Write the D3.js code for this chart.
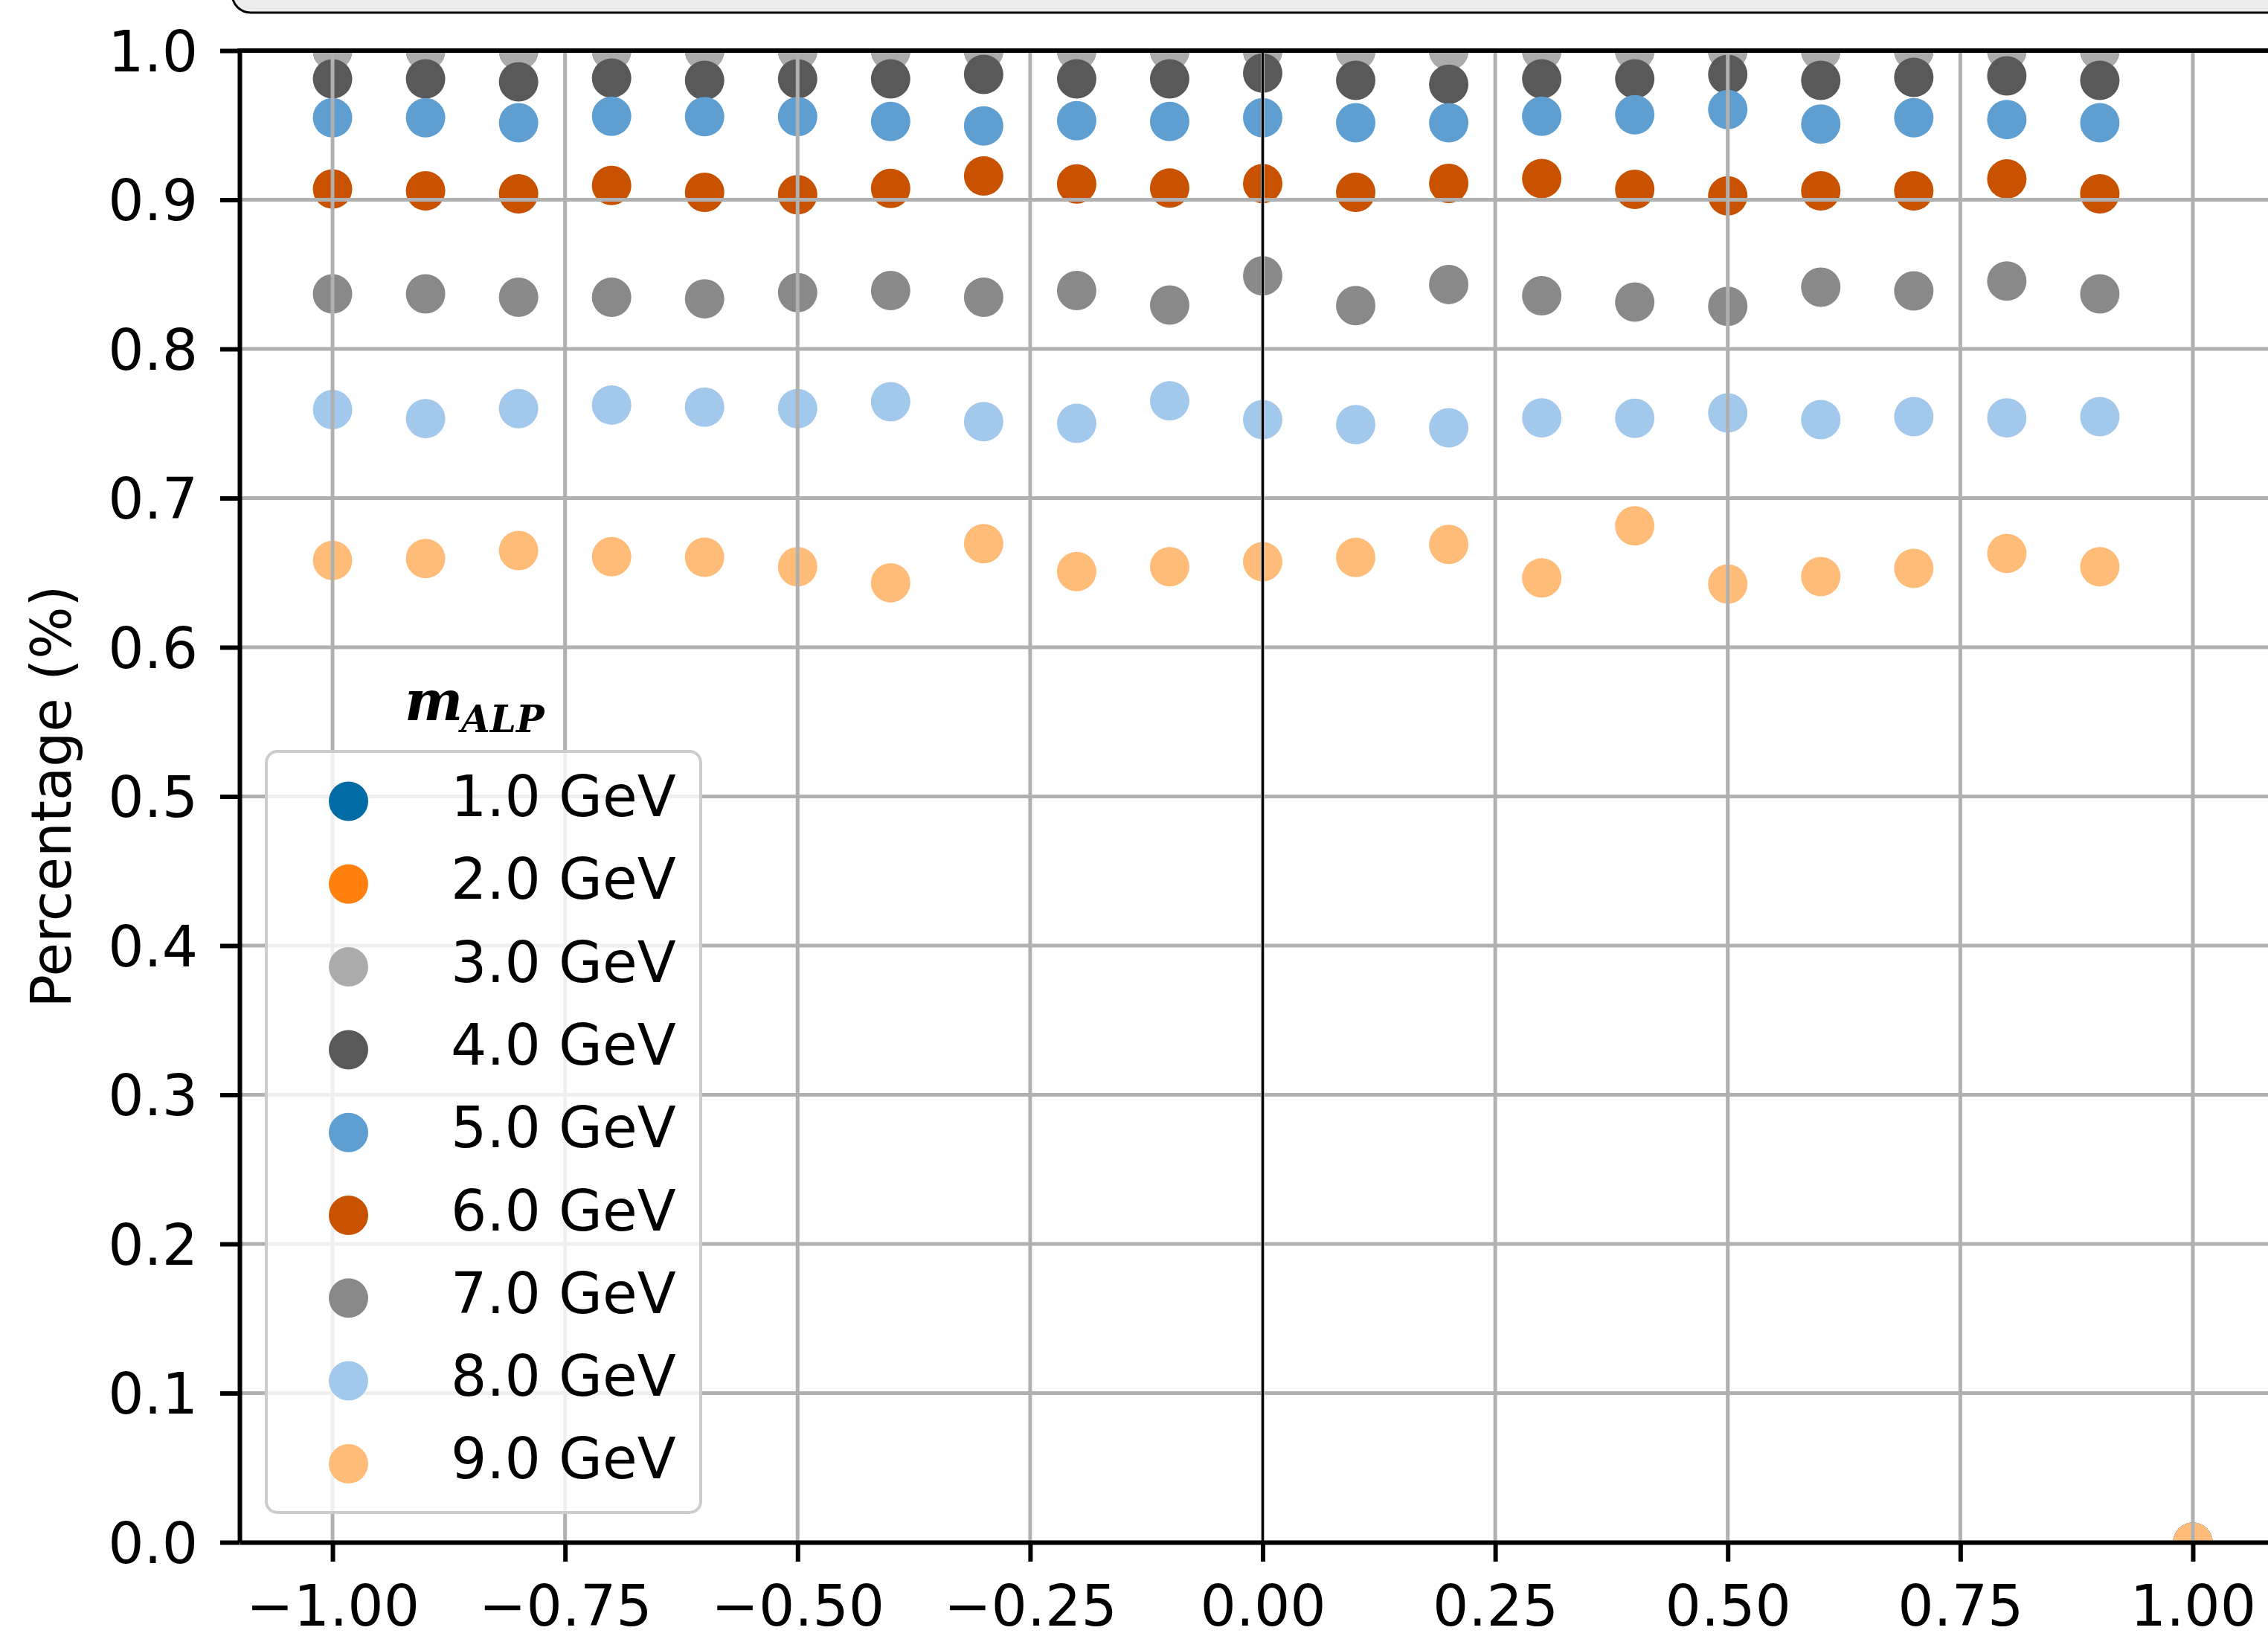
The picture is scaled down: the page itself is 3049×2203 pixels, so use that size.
<!DOCTYPE html>
<html>
<head>
<meta charset="utf-8">
<script src="https://cdn.jsdelivr.net/npm/d3@7"></script>
<style>
  html, body { margin: 0; padding: 0; background: #ffffff; overflow: hidden; }
  svg { display: block; }
</style>
</head>
<body>
<svg id="chart" width="3049" height="2203"></svg>
<script>
// ---------------- data ----------------
const xValues = [-1.0, -0.9, -0.8, -0.7, -0.6, -0.5, -0.4, -0.3, -0.2, -0.1,
                 0.0, 0.1, 0.2, 0.3, 0.4, 0.5, 0.6, 0.7, 0.8, 0.9, 1.0];

const massLabels = ["1.0 GeV", "2.0 GeV", "3.0 GeV", "4.0 GeV", "5.0 GeV",
                    "6.0 GeV", "7.0 GeV", "8.0 GeV", "9.0 GeV"];

const pct1 = [1, 1, 1, 1, 1, 1, 1, 1, 1, 1, 1, 1, 1, 1, 1, 1, 1, 1, 1, 1, 0];
const pct2 = [1, 1, 1, 1, 1, 1, 1, 1, 1, 1, 1, 1, 1, 1, 1, 1, 1, 1, 1, 1, 0];
const pct3 = [1, 1, 1, 1, 1, 1, 1, 1, 1, 1, 1, 1, 1, 1, 1, 1, 1, 1, 1, 1, 0];
const pct4 = [0.981, 0.981, 0.979, 0.9815, 0.980, 0.981, 0.981, 0.984, 0.981, 0.981,
              0.9849, 0.980, 0.9774, 0.981, 0.981, 0.984, 0.980, 0.982, 0.983, 0.980, 0];
const pct5 = [0.955, 0.955, 0.9516, 0.956, 0.9557, 0.9557, 0.9525, 0.9495, 0.953, 0.9525,
              0.955, 0.9516, 0.9516, 0.956, 0.957, 0.9605, 0.9508, 0.955, 0.9538, 0.9516, 0];
const pct6 = [0.9072, 0.906, 0.904, 0.9096, 0.905, 0.9034, 0.9076, 0.916, 0.9106, 0.9079,
              0.9109, 0.905, 0.911, 0.9142, 0.907, 0.9026, 0.906, 0.906, 0.914, 0.904, 0];
const pct7 = [0.8369, 0.8369, 0.8347, 0.8347, 0.8336, 0.8378, 0.8391, 0.8347, 0.8391, 0.8294,
              0.849, 0.8291, 0.8432, 0.8357, 0.8314, 0.8286, 0.8414, 0.8389, 0.8455, 0.8369, 0];
const pct8 = [0.7593, 0.7533, 0.760, 0.7624, 0.761, 0.760, 0.7646, 0.7513, 0.7501, 0.7652,
              0.7526, 0.7493, 0.7471, 0.7538, 0.7535, 0.7571, 0.7526, 0.7546, 0.7538, 0.7546, 0];
const pct9 = [0.6582, 0.6595, 0.6648, 0.6607, 0.6603, 0.654, 0.6432, 0.6695, 0.6507, 0.654,
              0.6574, 0.6602, 0.669, 0.6465, 0.6814, 0.6424, 0.6474, 0.6529, 0.6629, 0.654, 0];

const xTicks = [-1.0, -0.75, -0.5, -0.25, 0.0, 0.25, 0.5, 0.75, 1.0];
const yTicks = [0.0, 0.1, 0.2, 0.3, 0.4, 0.5, 0.6, 0.7, 0.8, 0.9, 1.0];

const yLabel = "Percentage (%)";

// ---------------- styles ----------------
const palette = ["#006BA4", "#FF800E", "#ABABAB", "#595959", "#5F9ED1",
                 "#C85200", "#898989", "#A2C8EC", "#FFBC79"];
const seriesValues = [pct1, pct2, pct3, pct4, pct5, pct6, pct7, pct8, pct9];

const font = "'DejaVu Sans', sans-serif";
const plot = { left: 322, right: 3073, top: 68, bottom: 2073 };

const svg = d3.select("#chart");
svg.append("rect").attr("width", 3049).attr("height", 2203).attr("fill", "#ffffff");

const x = d3.scaleLinear().domain([-1.1, 1.1]).range([plot.left, plot.right]);
const y = d3.scaleLinear().domain([0, 1]).range([plot.bottom, plot.top]);

svg.append("defs").append("clipPath").attr("id", "plotclip")
  .append("rect")
  .attr("x", plot.left).attr("y", plot.top)
  .attr("width", plot.right - plot.left).attr("height", plot.bottom - plot.top);

// points
const pts = svg.append("g").attr("clip-path", "url(#plotclip)");
seriesValues.forEach((vals, i) => {
  pts.append("g")
    .selectAll("circle")
    .data(vals.map((v, j) => ({ x: xValues[j], y: v })))
    .join("circle")
    .attr("cx", d => x(d.x))
    .attr("cy", d => y(d.y))
    .attr("r", 26.5)
    .attr("fill", palette[i]);
});

// grid (drawn above points, like matplotlib default)
const grid = svg.append("g").attr("clip-path", "url(#plotclip)");
grid.selectAll("line.vx").data(xTicks).join("line")
  .attr("x1", d => x(d)).attr("x2", d => x(d))
  .attr("y1", plot.top).attr("y2", plot.bottom)
  .attr("stroke", "#b0b0b0").attr("stroke-width", 5);
grid.selectAll("line.hy").data(yTicks).join("line")
  .attr("x1", plot.left).attr("x2", plot.right)
  .attr("y1", d => y(d)).attr("y2", d => y(d))
  .attr("stroke", "#b0b0b0").attr("stroke-width", 5);

// vertical line at x = 0
svg.append("line")
  .attr("x1", x(0)).attr("x2", x(0))
  .attr("y1", plot.top).attr("y2", plot.bottom)
  .attr("stroke", "#000000").attr("stroke-width", 3);

// axes
const xAxis = d3.axisBottom(x).tickValues(xTicks).tickFormat(d3.format(".2f"))
  .tickSizeInner(26).tickSizeOuter(0).tickPadding(8);
const yAxis = d3.axisLeft(y).tickValues(yTicks).tickFormat(d3.format(".1f"))
  .tickSizeInner(26).tickSizeOuter(0).tickPadding(26);

const gx = svg.append("g").attr("transform", `translate(0,${plot.bottom})`).call(xAxis);
const gy = svg.append("g").attr("transform", `translate(${plot.left},0)`).call(yAxis);

[gx, gy].forEach(g => {
  g.select(".domain").attr("stroke", "#000").attr("stroke-width", 6);
  g.selectAll(".tick line").attr("stroke", "#000").attr("stroke-width", 6);
  g.selectAll(".tick text")
    .attr("font-family", font).attr("font-size", 76).attr("fill", "#000");
});
gx.selectAll(".tick text").attr("y", 112).attr("dy", null);
gy.selectAll(".tick text").attr("x", -56).attr("dy", "0.36em");

// top spine
svg.append("line")
  .attr("x1", plot.left - 3).attr("x2", plot.right)
  .attr("y1", plot.top).attr("y2", plot.top)
  .attr("stroke", "#000").attr("stroke-width", 6);

// y label
svg.append("text")
  .attr("transform", `translate(95,${(plot.top + plot.bottom) / 2}) rotate(-90)`)
  .attr("text-anchor", "middle")
  .attr("font-family", font).attr("font-size", 74).attr("fill", "#000")
  .text(yLabel);

// legend
const legend = { x: 358, y: 1010, w: 584, h: 1023, row0: 1077, step: 111.3, mx: 468.5, tx: 606 };
svg.append("rect")
  .attr("x", legend.x).attr("y", legend.y).attr("width", legend.w).attr("height", legend.h)
  .attr("rx", 15).attr("ry", 15)
  .attr("fill", "#ffffff").attr("fill-opacity", 0.8)
  .attr("stroke", "#cccccc").attr("stroke-width", 4);

const lg = svg.append("g");
lg.selectAll("circle").data(massLabels).join("circle")
  .attr("cx", legend.mx)
  .attr("cy", (d, i) => legend.row0 + i * legend.step)
  .attr("r", 26.5)
  .attr("fill", (d, i) => palette[i]);
lg.selectAll("text").data(massLabels).join("text")
  .attr("x", legend.tx)
  .attr("y", (d, i) => legend.row0 + i * legend.step + 20)
  .attr("font-family", font).attr("font-size", 76).attr("fill", "#000")
  .text(d => d);

// legend title m_ALP
const title = svg.append("text")
  .attr("font-family", "'DejaVu Serif', serif")
  .attr("font-weight", "bold").attr("font-style", "italic").attr("fill", "#000");
title.append("tspan").attr("x", 544).attr("y", 968).attr("font-size", 74).text("m");
title.append("tspan").attr("x", 620).attr("y", 984).attr("font-size", 50).text("ALP");

// cut-off rounded box at the top
svg.append("rect")
  .attr("x", 312).attr("y", -200).attr("width", 3000).attr("height", 217)
  .attr("rx", 25).attr("ry", 25)
  .attr("fill", "#ececec").attr("stroke", "#000").attr("stroke-width", 3);
</script>
</body>
</html>
